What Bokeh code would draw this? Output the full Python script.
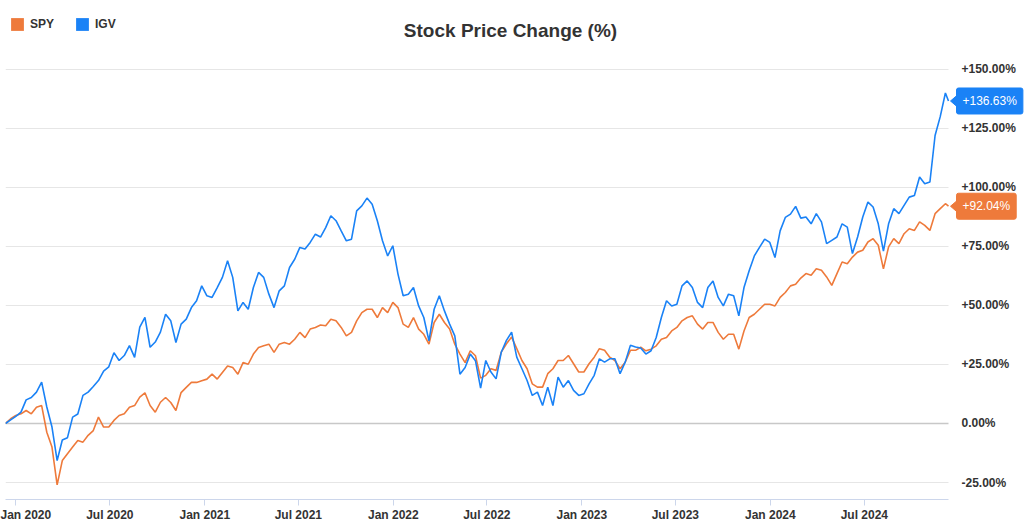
import pandas as pd
from datetime import datetime
from bokeh.plotting import figure
from bokeh.models import (Range1d, FixedTicker, Legend, LegendItem, Label,
                          PolyAnnotation, Span, BoxAnnotation, DatetimeTickFormatter)
from bokeh.embed import file_html
from bokeh.resources import INLINE

# ---------------- data ----------------
title_text = "Stock Price Change (%)"
series_names = ["SPY", "IGV"]
series_colors = ["#EE7A3B", "#1A82F6"]
start_date = "2019-12-12"   # first sample, then every 10 days
end_date = "2024-12-11"     # last sample

spy = [
    0, 2, 3.4, 4.1, 5.5, 4.1, 6.9, 7.6, -3.7, -10,
    -26, -15.7, -12.8, -10, -7.2, -7.9, -5, -3, 2.7, -1.5,
    -1.5, 1.3, 3.4, 4.1, 6.9, 7.6, 11.2, 13, 7.6, 4.8,
    9, 11, 8.9, 5.5, 13.1, 15.3, 17.4, 17.4, 18.1, 18.8,
    20.9, 18.8, 21.6, 24.4, 23.7, 20.9, 25.8, 25.1, 29.4, 32.2,
    32.9, 33.6, 30.1, 33.6, 34.3, 33.6, 35.7, 38.6, 36.4, 40,
    40.7, 41.7, 41.4, 44.2, 43.5, 40.7, 37.1, 38.6, 43.5, 47,
    48.4, 48.4, 44.9, 49.1, 47, 51.3, 49.1, 42.1, 40.7, 44.9,
    40, 37.8, 33.6, 42.8, 46.3, 42.8, 40, 33.6, 29.4, 25.8,
    30.8, 28.7, 19.2, 20.4, 23.2, 22.5, 30.2, 33.8, 36.6, 31.7,
    26.7, 23.2, 16.8, 15.4, 15.4, 21.1, 23.2, 26.7, 26.7, 28.8,
    25.3, 21.8, 21.8, 25.3, 28.1, 31.7, 31, 28.1, 26.7, 23.2,
    26, 31, 31, 32.3, 30.8, 31.5, 32.9, 35.7, 36.4, 39.2,
    40.7, 43.5, 44.9, 45.6, 42.1, 40, 42.8, 42.8, 38.6, 35.7,
    37.8, 37.8, 31.5, 39.2, 44.9, 46.3, 48.4, 50.5, 50.5, 49.8,
    53.4, 55.5, 58.3, 59, 61.6, 63.5, 62.8, 65.6, 64.9, 62.1,
    58.5, 63.5, 68.4, 67.7, 70.5, 72.6, 73.4, 76.9, 78.3, 75.5,
    65.5, 74.8, 78.3, 76.2, 80.4, 82.5, 81.8, 85.4, 83.9, 81.8,
    88.9, 91, 93.1,
    92.04,
]

igv = [
    0, 1.5, 3, 4.8, 10, 11, 13.3, 17.5, 7, -1.5,
    -15.7, -7, -6, 2.7, 4, 11.9, 13.3, 15.7, 18.2, 22.2,
    24, 30, 26.7, 28.8, 33, 28, 40.8, 45, 32.3, 34.5,
    38.7, 46.3, 43.5, 34.3, 42.1, 44.2, 49.1, 52, 58.3, 54.1,
    53.4, 57.6, 61.9, 68.9, 61.9, 47.7, 51.3, 48.4, 57.6, 64,
    61.9, 54.8, 49.1, 56.2, 58.3, 66.1, 69.6, 74.6, 73.9, 76.7,
    80.2, 79, 83, 88, 85.9, 81.6, 77.4, 78.1, 90.1, 92.2,
    95.5, 92.9, 85.9, 77.4, 71, 75.3, 63.3, 54.1, 54.8, 57.6,
    49.8, 44.9, 35, 48.4, 54.1, 47.7, 42.1, 37.1, 20.9, 23.7,
    29.4, 26.6, 15, 26.7, 21.8, 18.9, 30.2, 35.2, 38.7, 28.1,
    23.2, 18.2, 11.9, 13.3, 7.6, 15.4, 7.6, 19.6, 15.4, 18.2,
    14, 11.9, 12.6, 16.8, 20.4, 27.4, 26, 27.4, 27.4, 21.1,
    26, 33.1, 32.4, 32, 29.4, 30.8, 36.4, 44.9, 52, 49.8,
    50.5, 58.3, 60.4, 57.6, 51.3, 49.1, 57.6, 60.4, 53.4, 49.8,
    54.8, 54.1, 45.6, 57.6, 64.7, 71, 74.6, 78.1, 76.7, 70.3,
    81.6, 87.3, 88.7, 92, 87, 87.5, 84.6, 88.9, 85.4, 76.2,
    77.6, 79, 84.6, 83.2, 72, 79, 87.5, 93.8, 91.7, 84.6,
    73, 84.6, 91, 88.9, 92.4, 95.9, 96.6, 104.4, 101.6, 102.3,
    122, 130, 140,
    136.63,
]

y_ticks = [-25, 0, 25, 50, 75, 100, 125, 150]
y_tick_labels = ["-25.00%", "0.00%", "+25.00%", "+50.00%", "+75.00%",
                 "+100.00%", "+125.00%", "+150.00%"]
x_tick_labels = ["Jan 2020", "Jul 2020", "Jan 2021", "Jul 2021", "Jan 2022",
                 "Jul 2022", "Jan 2023", "Jul 2023", "Jan 2024", "Jul 2024"]

dates = list(pd.date_range(start_date, periods=len(spy) - 1, freq="10D")) + [pd.Timestamp(end_date)]
series_values = [spy, igv]

# ---------------- figure ----------------
W, H = 1024, 524
FONT = "Liberation Sans"
TXT = "#333333"
Y0, Y1 = -32.2, 179.2
BORDER_LEFT = 5
DATA_W = 943                      # pixels used by the series (plot area)
AXIS_BOTTOM_EST = 25
frame_w = W - BORDER_LEFT         # frame runs to the right edge, labels sit inside it
frame_h = H - AXIS_BOTTOM_EST
py = (Y1 - Y0) / frame_h          # data units per vertical pixel

t0 = dates[0].value / 1e6
t1 = dates[-1].value / 1e6
px_ms = (t1 - t0) / DATA_W        # ms per horizontal pixel
x_end = t0 + px_ms * frame_w

p = figure(width=W, height=H, x_axis_type="datetime", y_axis_location="right",
           output_backend="svg", toolbar_location=None,
           x_range=Range1d(t0, x_end), y_range=Range1d(Y0, Y1))
p.min_border_left = BORDER_LEFT
p.min_border_top = 0
p.min_border_bottom = 0
p.min_border_right = 0
p.outline_line_color = None
p.background_fill_color = "white"
p.border_fill_color = "white"

# x axis
x_ticks = [pd.Timestamp(datetime.strptime(l, "%b %Y")).value / 1e6 for l in x_tick_labels]
xa = p.xaxis[0]
xa.ticker = FixedTicker(ticks=x_ticks)
xa.bounds = (t0, t1)
fmt = "%b %Y"
xa.formatter = DatetimeTickFormatter(days=fmt, months=fmt, years=fmt, hours=fmt,
                                     hourmin=fmt, minutes=fmt)
xa.axis_line_color = "#ccd6eb"
xa.major_tick_line_color = "#ccd6eb"
xa.minor_tick_line_color = None
xa.major_tick_out = 6
xa.major_tick_in = 0
xa.major_label_standoff = 2
xa.major_label_text_font = FONT
xa.major_label_text_font_size = "12px"
xa.major_label_text_font_style = "bold"
xa.major_label_text_color = TXT
p.xgrid.visible = False

# y axis (right) - labels pulled back into the free strip right of the series
ya = p.yaxis[0]
ya.ticker = FixedTicker(ticks=y_ticks)
ya.major_label_overrides = dict(zip(y_ticks, y_tick_labels))
ya.axis_line_color = None
ya.major_tick_line_color = None
ya.minor_tick_line_color = None
ya.major_tick_out = 0
ya.major_tick_in = 0
ya.major_label_standoff = -(frame_w - DATA_W - 13)
ya.major_label_text_font = FONT
ya.major_label_text_font_size = "12px"
ya.major_label_text_font_style = "bold"
ya.major_label_text_color = TXT
p.ygrid.grid_line_color = "#e6e6e6"
p.ygrid.grid_line_width = 1

p.add_layout(Span(location=0, dimension="width", line_color="#c8c8c8",
                  line_width=1.5, level="underlay"))
# blank strip to the right of the plot area (grid lines stop at the last date)
p.add_layout(BoxAnnotation(left=t1, fill_color="white", fill_alpha=1,
                           line_color=None, level="underlay"))

# lines
for vals, col in zip(series_values, series_colors):
    p.line(dates, vals, line_color=col, line_width=1.6)

# legend (square swatches)
nan = float("nan")
items = []
for name, col in zip(series_names, series_colors):
    r = p.quad(left=[nan], right=[nan], top=[nan], bottom=[nan],
               fill_color=col, line_color=None)
    items.append(LegendItem(label=name, renderers=[r]))
legend = Legend(items=items, orientation="horizontal", location=(4, frame_h - 32),
                glyph_width=16, glyph_height=16, label_height=16, label_standoff=5,
                spacing=20, padding=0, margin=0, border_line_color=None,
                background_fill_alpha=0, label_text_font=FONT,
                label_text_font_size="12px", label_text_font_style="bold",
                label_text_color=TXT)
p.add_layout(legend)

# title
p.add_layout(Label(x=505, y=frame_h - 30, x_units="screen", y_units="screen",
                   text=title_text, text_align="center", text_baseline="middle",
                   text_font=FONT, text_font_size="19px", text_font_style="bold",
                   text_color=TXT))

# end-value flags (boxes)
for vals, col in zip(series_values, series_colors):
    v = vals[-1]
    p.add_layout(Label(x=t1 + 8 * px_ms, y=v,
                       text=f"{v:+.2f}%", text_align="left", text_baseline="middle",
                       text_font=FONT, text_font_size="12px", text_color="white",
                       background_fill_color=col, background_fill_alpha=1,
                       border_line_color=col, border_line_alpha=1,
                       border_radius=2, padding=dict(x=6, y=6)))
# flag pointers
for vals, col in zip(series_values, series_colors):
    v = vals[-1]
    xs = [t1 + 2 * px_ms, t1 + 9 * px_ms, t1 + 9 * px_ms]
    ys = [v, v + 6 * py, v - 6 * py]
    p.add_layout(PolyAnnotation(xs=xs, ys=ys,
                                fill_color=col, fill_alpha=1, line_color=col,
                                line_alpha=1, line_width=1))

open("out.html", "w").write(file_html(p, INLINE))
